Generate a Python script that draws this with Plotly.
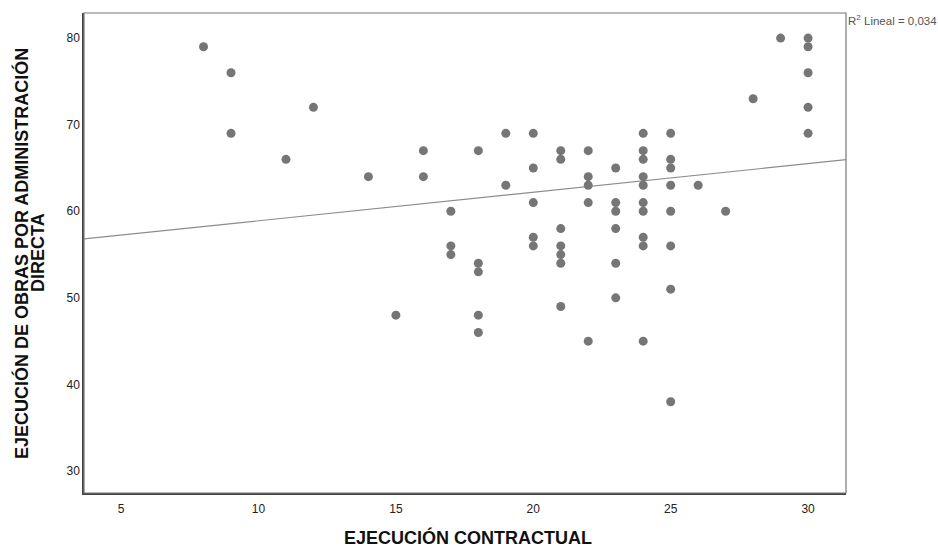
import numpy as np
import plotly.graph_objects as go

# Data
ejecucion_contractual = [
    8, 9, 9, 11, 12, 14, 15, 16, 16,
    17, 17, 17,
    18, 18, 18, 18, 18,
    19, 19,
    20, 20, 20, 20, 20,
    21, 21, 21, 21, 21, 21, 21,
    22, 22, 22, 22, 22,
    23, 23, 23, 23, 23, 23,
    24, 24, 24, 24, 24, 24, 24, 24, 24, 24,
    25, 25, 25, 25, 25, 25, 25, 25,
    26, 27, 28, 29,
    30, 30, 30, 30, 30,
]
ejecucion_administracion = [
    79, 76, 69, 66, 72, 64, 48, 67, 64,
    60, 56, 55,
    67, 54, 53, 48, 46,
    69, 63,
    69, 65, 61, 57, 56,
    67, 66, 58, 56, 55, 54, 49,
    67, 64, 63, 61, 45,
    65, 61, 60, 58, 54, 50,
    69, 67, 66, 64, 63, 61, 60, 57, 56, 45,
    69, 66, 65, 63, 60, 56, 51, 38,
    63, 60, 73, 80,
    80, 79, 76, 72, 69,
]
# Linear fit shown in the reference
trend_slope = 0.33
trend_intercept = 55.6
x_ticks = [5, 10, 15, 20, 25, 30]
y_ticks = [30, 40, 50, 60, 70, 80]
x_range = [3.65, 31.38]
y_range = [27.46, 82.9]
r2_label = "R<sup>2</sup> Lineal = 0,034"
x_title = "EJECUCIÓN CONTRACTUAL"
y_title_lines = ["EJECUCIÓN DE OBRAS POR ADMINISTRACIÓN", "DIRECTA"]

xs = np.array(ejecucion_contractual, dtype=float)
ys = np.array(ejecucion_administracion, dtype=float)
line_x = np.array(x_range)
line_y = trend_slope * line_x + trend_intercept

fig = go.Figure()
fig.add_trace(go.Scatter(
    x=line_x, y=line_y, mode="lines",
    line=dict(color="#8c8c8c", width=1.2),
    hoverinfo="skip", showlegend=False,
))
fig.add_trace(go.Scatter(
    x=xs, y=ys, mode="markers",
    marker=dict(color="#767676", size=9, line=dict(width=0)),
    showlegend=False,
))

font_family = "Liberation Sans, Arial, sans-serif"
W, H = 938, 548
# plot area in window pixels: left 84, right 846, top 13, bottom 493
L, T = 84, 13
R = W - 846
B = H - 493
pw, ph = W - L - R, H - T - B


def px_x(p):
    return (p - L) / pw


def px_y(p):
    return (H - B - p) / ph


title_font = dict(family=font_family, size=18, color="#111")
annotations = [
    dict(text=r2_label, xref="paper", yref="paper", x=1.0, y=px_y(20),
         xanchor="left", yanchor="middle", showarrow=False,
         font=dict(size=11.5, color="#555")),
    dict(text="<b>%s</b>" % x_title, xref="paper", yref="paper",
         x=px_x(468), y=px_y(537), xanchor="center", yanchor="middle",
         showarrow=False, font=title_font),
    dict(text="<b>%s</b>" % y_title_lines[0], xref="paper", yref="paper",
         x=px_x(21), y=px_y(254), xanchor="center", yanchor="middle",
         textangle=-90, showarrow=False, font=title_font),
    dict(text="<b>%s</b>" % y_title_lines[1], xref="paper", yref="paper",
         x=px_x(38), y=px_y(253), xanchor="center", yanchor="middle",
         textangle=-90, showarrow=False, font=title_font),
]

fig.update_layout(
    width=W, height=H,
    margin=dict(l=L, r=R, t=T, b=B),
    paper_bgcolor="white", plot_bgcolor="white",
    font=dict(family=font_family, color="#222", size=12),
    xaxis=dict(
        range=x_range, tickvals=x_ticks, showgrid=False, zeroline=False,
        showline=True, linecolor="#444", linewidth=1.5, ticks="",
        tickfont=dict(size=12, color="#222"), automargin=False,
        ticklabelstandoff=4,
    ),
    yaxis=dict(
        range=y_range, tickvals=y_ticks, showgrid=False, zeroline=False,
        showline=True, linecolor="#444", linewidth=1.5, ticks="",
        tickfont=dict(size=12, color="#222"), automargin=False,
    ),
    shapes=[dict(type="rect", xref="paper", yref="paper", x0=0, y0=0, x1=1, y1=1,
                 line=dict(color="#777", width=1.2), fillcolor="rgba(0,0,0,0)")],
    annotations=annotations,
)

fig.write_html(
    "out.html",
    config={"displayModeBar": False},
    post_script="document.body.style.margin='0px';document.body.style.overflow='hidden';",
)
